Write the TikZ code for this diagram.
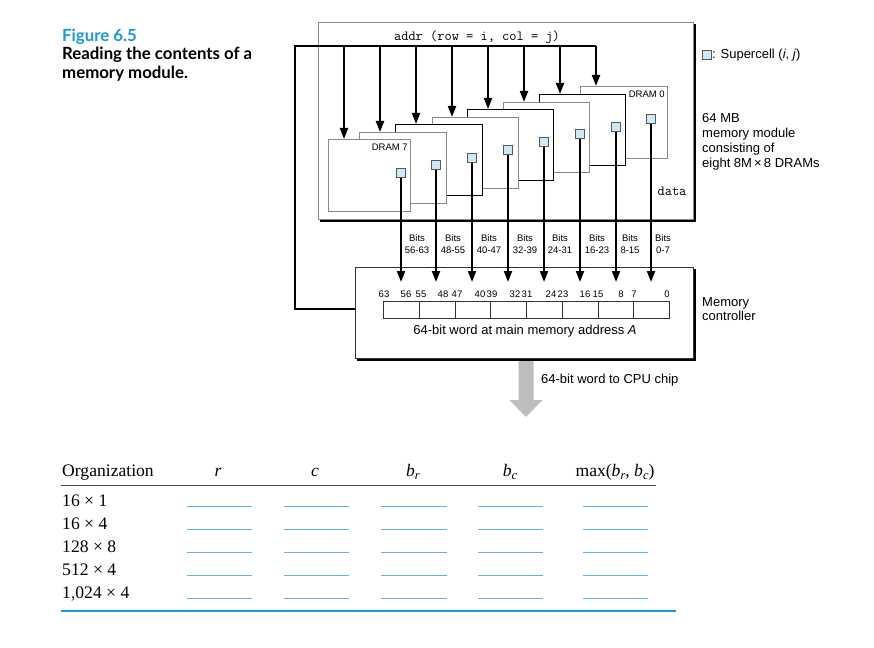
\documentclass[tikz,border=0pt]{standalone}
\usepackage{fontspec}
\setmainfont{Liberation Serif}
\newfontfamily\hv{Liberation Sans}
\newfontfamily\ttl{Lato}
\usetikzlibrary{arrows.meta,calc}
\definecolor{figblue}{HTML}{1A9AD6}
\definecolor{blankblue}{HTML}{5BB8E6}
\definecolor{cellfill}{HTML}{CFE9F4}
\definecolor{dgray}{HTML}{8A8A8A}
\definecolor{arrowgray}{HTML}{BDBDBD}
\tikzset{
  bus/.style={line width=2pt, black, line join=miter},
  tipped/.style={-{Triangle[width=8pt,length=11pt]}},
  dramg/.style={draw=dgray, fill=white, line width=0.9pt, inner sep=0pt, anchor=north west},
  dramk/.style={draw=black, fill=white, line width=0.9pt, inner sep=0pt, anchor=north west},
  scell/.style={draw=black!65, fill=cellfill, line width=0.8pt, minimum size=8.5pt, inner sep=0pt},
  small/.style={font=\hv\fontsize{9.5}{12}\selectfont, inner sep=0pt},
  txt/.style={font=\hv\fontsize{13}{15}\selectfont, inner sep=0pt},
  tt/.style={font=\ttfamily\fontsize{14}{14}\selectfont, inner sep=0pt},
  tab/.style={font=\fontsize{17.6}{20}\selectfont, inner sep=0pt},
  ttlfont/.style={font=\ttl\bfseries\fontsize{16.8}{18}\selectfont, inner sep=0pt, anchor=base west},
  regcell/.style={draw=black!80, line width=0.7pt, minimum width=35.75pt, minimum height=17pt, inner sep=0pt, anchor=north west},
  shadowline/.style={line width=2.5pt, black}
}
\begin{document}
\begin{tikzpicture}[x=1pt,y=-1pt]
\useasboundingbox (0,0) rectangle (874,647);
\fill[white] (0,0) rectangle (874,647);

% title
\node[ttlfont, text=figblue] (fig) at (62,41.5) {Figure 6.5};
\node[ttlfont] (cap1) at (62,60) {Reading the contents of a};
\node[ttlfont] (cap2) at (62,78.5) {memory module.};

% memory module box
\node[draw=dgray, line width=0.8pt, minimum width=375pt, minimum height=197pt, inner sep=0pt, anchor=north west] (mod) at (318,22) {};
\draw[shadowline] ([xshift=2pt,yshift=-1.2pt]mod.south west) -- ([xshift=1.2pt,yshift=-1.2pt]mod.south east) -- ([xshift=1.2pt,yshift=-2pt]mod.north east);
\node[tt] (addr) at (477,37) {addr (row = i, col = j)};
\node[tt] (data) at (672,191) {data};

% DRAMs, back to front
\node[dramg, minimum width=87pt, minimum height=72pt] (d0) at (580,86) {};
\node[dramk, minimum width=86pt, minimum height=71pt] (d1) at (539,94) {};
\node[dramg, minimum width=86pt, minimum height=70pt] (d2) at (503,102) {};
\node[dramk, minimum width=86pt, minimum height=71pt] (d3) at (467,109) {};
\node[dramg, minimum width=86pt, minimum height=71pt] (d4) at (432,117) {};
\node[dramk, minimum width=87pt, minimum height=71pt] (d5) at (395,124) {};
\node[dramg, minimum width=87pt, minimum height=71pt] (d6) at (359,132) {};
\node[dramg, minimum width=82pt, minimum height=72pt] (d7) at (328,139) {};
\node[small, anchor=north east] (l0) at ([xshift=-3pt,yshift=-5pt]d0.north east) {DRAM 0};
\node[small, anchor=north east] (l7) at ([xshift=-3pt,yshift=-5pt]d7.north east) {DRAM 7};

% supercells
\node[scell] (s7) at (401,173) {};
\node[scell] (s6) at (436,165) {};
\node[scell] (s5) at (472,158) {};
\node[scell] (s4) at (508,150) {};
\node[scell] (s3) at (544,142) {};
\node[scell] (s2) at (580,134) {};
\node[scell] (s1) at (616,127) {};
\node[scell] (s0) at (651,119) {};

% controller
\node[draw=black!80, line width=0.8pt, minimum width=338pt, minimum height=91pt, inner sep=0pt, anchor=north west] (ctrl) at (355,267) {};
\draw[shadowline] ([xshift=2pt,yshift=-1.2pt]ctrl.south west) -- ([xshift=1.2pt,yshift=-1.2pt]ctrl.south east) -- ([xshift=1.2pt,yshift=-2pt]ctrl.north east);

% address bus
\coordinate (cin) at (355,309);
\coordinate (bl) at (295,46);
\coordinate (a7) at (344,46);
\coordinate (a6) at (380,46);
\coordinate (a5) at (416,46);
\coordinate (a4) at (452,46);
\coordinate (a3) at (488,46);
\coordinate (a2) at (524,46);
\coordinate (a1) at (560,46);
\coordinate (a0) at (596,46);
\draw[bus] (cin) -- (cin -| bl) -- (bl) -- (a0);
\foreach \k in {0,...,7}{
  \draw[bus,tipped] (a\k) -- (a\k |- d\k.north);
}

% data lines
\coordinate (ctip) at (0,282);
\foreach \k in {0,...,7}{
  \draw[bus,tipped] (s\k.south) -- (s\k.south |- ctip);
}
\node[small, align=center] (b7) at (417,244) {Bits\\56-63};
\node[small, align=center] (b6) at (453,244) {Bits\\48-55};
\node[small, align=center] (b5) at (489,244) {Bits\\40-47};
\node[small, align=center] (b4) at (525,244) {Bits\\32-39};
\node[small, align=center] (b3) at (560,244) {Bits\\24-31};
\node[small, align=center] (b2) at (597,244) {Bits\\16-23};
\node[small, align=center] (b1) at (630,244) {Bits\\8-15};
\node[small, align=center] (b0) at (663,244) {Bits\\0-7};

% register
\foreach \i in {0,...,7}{
  \node[regcell] (r\i) at (383+35.75*\i,301) {};
}
\foreach \x/\t [count=\n] in {384/63,406/56,421/55,443/48,457/47,480/40,492/39,515/32,527/31,551/24,563/23,585/16,598/15,621/8,634/7,667/0}{
  \node[small] (bn\n) at (\x,294) {\t};
}
\node[txt] (word) at (525,331) {64-bit word at main memory address \textit{A}};
\node[txt, anchor=base west] (mc1) at (702,306.5) {Memory};
\node[txt, anchor=base west] (mc2) at (702,320.5) {controller};

% output arrow
\fill[arrowgray] (518.5,361) -- (533.5,361) -- (533.5,400) -- (542.5,400) -- (526,417) -- (509.5,400) -- (518.5,400) -- cycle;
\node[txt, anchor=west] (cpu) at (541,380) {64-bit word to CPU chip};

% legend and module description
\node[scell] (leg) at (707,55) {};
\node[txt, anchor=west] (legt) at (712,55) {: Supercell (\textit{i}, \textit{j})};
\node[txt, anchor=base west] (m1) at (702,122.5) {64 MB};
\node[txt, anchor=base west] (m2) at (702,137.5) {memory module};
\node[txt, anchor=base west] (m3) at (702,152.5) {consisting of};
\node[txt, anchor=base west] (m4) at (702,167.5) {eight 8M\,×\,8 DRAMs};

% table
\node[tab, anchor=base west] (h0) at (62,476.7) {Organization};
\node[tab, anchor=base] (h1) at (218,476.7) {\textit{r}};
\node[tab, anchor=base] (h2) at (315,476.7) {\textit{c}};
\node[tab, anchor=base] (h3) at (413,476.7) {\textit{b}\raisebox{-0.4ex}{\fontsize{12.5}{12}\selectfont\textit{r}}};
\node[tab, anchor=base] (h4) at (510,476.7) {\textit{b}\raisebox{-0.4ex}{\fontsize{12.5}{12}\selectfont\textit{c}}};
\node[tab, anchor=base] (h5) at (615,476.7) {max(\textit{b}\raisebox{-0.4ex}{\fontsize{12.5}{12}\selectfont\textit{r}}, \textit{b}\raisebox{-0.4ex}{\fontsize{12.5}{12}\selectfont\textit{c}})};
\draw[line width=1.4pt, black!70] (61,485.5) -- (656,485.5);
\foreach \t [count=\n from 0] in {16 × 1,16 × 4,128 × 8,512 × 4,{1,024 × 4}}{
  \node[tab, anchor=base west] (row\n) at (62,506+23*\n) {\t};
  \foreach \a/\b in {187/252,284/349,381/447,478/543,583/648}{
    \draw[blankblue, line width=1pt] (\a,506+23*\n) -- (\b,506+23*\n);
  }
}
\draw[figblue, line width=1.5pt] (61,611) -- (676,611);
\end{tikzpicture}
\end{document}
